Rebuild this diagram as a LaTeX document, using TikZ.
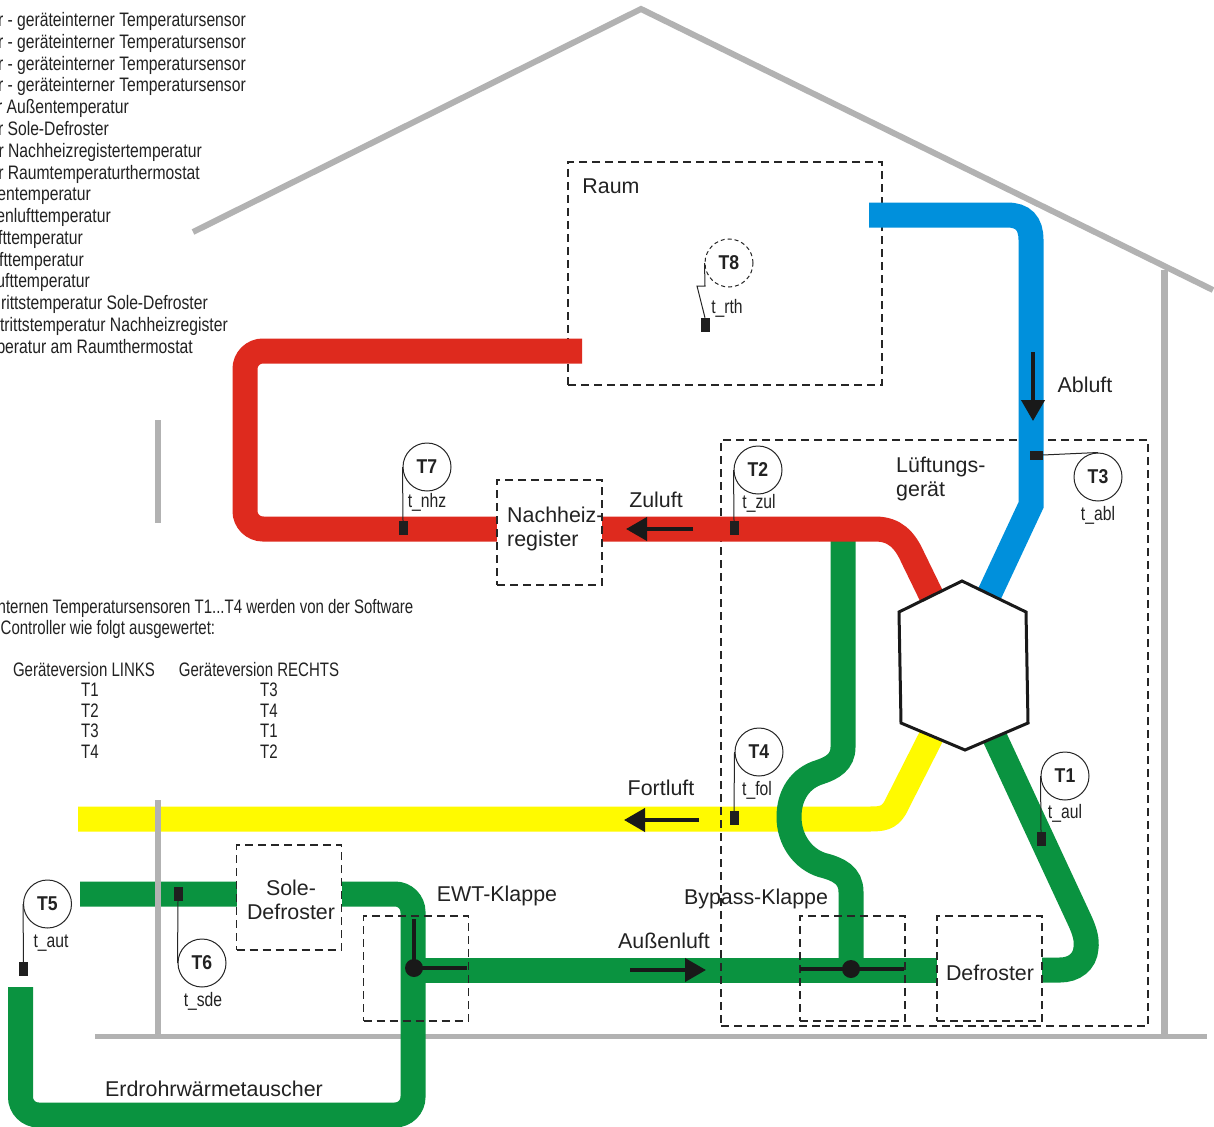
\documentclass[tikz,border=0pt]{standalone}
\usepackage{fontspec}
\setmainfont{Liberation Sans}
\newfontfamily\condf[FakeStretch=0.77]{Liberation Sans}
\newfontfamily\legf[FakeStretch=0.805]{Liberation Sans}
\newfontfamily\sensf[FakeStretch=0.88]{Liberation Sans}
\newcommand{\tlab}[1]{\raisebox{-1.5pt}{#1}}
\definecolor{pgreen}{HTML}{0A9340}
\definecolor{pred}{HTML}{DE2A1E}
\definecolor{pblue}{HTML}{0090DC}
\definecolor{pyellow}{HTML}{FFFA00}
\definecolor{wallgray}{HTML}{B2B2B2}
\definecolor{txt}{HTML}{222222}
\usetikzlibrary{arrows.meta}
\tikzset{
  x=1pt,y=-1pt,
  wall/.style={draw=wallgray,line width=6},
  pipe/.style={line width=25,rounded corners=18},
  plainpipe/.style={line width=25},
  dbox/.style={draw=black!85,line width=1.5,dash pattern=on 8 off 5},
  lbl/.style={font=\fontsize{21.4}{24}\selectfont,text=txt,inner sep=0,align=left},
  small/.style={font=\condf\fontsize{19.5}{21}\selectfont,text=txt,inner sep=0,anchor=base},
  legend/.style={font=\legf\fontsize{19.5}{21}\selectfont,text=txt,inner sep=0,anchor=base east},
  tag/.style={font=\legf\fontsize{19.5}{21}\selectfont,text=txt,inner sep=0,anchor=base},
  sens/.style={circle,draw=black!85,line width=1,fill=white,minimum size=48,inner sep=0,font=\sensf\bfseries\fontsize{20}{22}\selectfont,text=txt},
  probe/.style={fill=black!88,inner sep=0,minimum width=9,minimum height=14},
  lead/.style={draw=black!85,line width=1},
  flow/.style={line width=4,draw=black!90,-{Triangle[length=21,width=23]}},
  flap/.style={line width=4,draw=black!90},
  pivot/.style={circle,fill=black!90,inner sep=0,minimum size=18},
}
\begin{document}
\begin{tikzpicture}
\useasboundingbox (0,0) rectangle (1214,1126);
\clip (0,0) rectangle (1214,1126);
\fill[white] (0,0) rectangle (1214,1126);
% building
\draw[wall,line cap=butt] (193,232) -- (641,9) -- (1213,290);
\draw[wall,line width=7] (1164,270) -- (1164,1036);
\draw[wall] (158,420) -- (158,523);
\draw[wall,line width=5] (95,1036) -- (1207,1036);
% pipes below the dashed frames
\draw[plainpipe,pyellow] (78,819) -- (870,819) .. controls (882,819) and (889,818) .. (895,808) -- (932,735);
\draw[plainpipe,pgreen] (843,535) -- (843,747) .. controls (843,762) and (832,768) .. (820,772) .. controls (800,778) and (789,795) .. (789,817) .. controls (789,840) and (803,859) .. (822,865) .. controls (838,869) and (851,875) .. (851,892) -- (851,970);
\draw[pipe,pgreen] (80,894) -- (413,894) -- (413,1115) -- (20.5,1115) -- (20.5,987);
\draw[plainpipe,pgreen] (425,970) -- (945,970);
\draw[plainpipe,pgreen] (995,738) -- (1080,921) .. controls (1085,932) and (1087,940) .. (1086,948) .. controls (1085,962) and (1074,970) .. (1060,970) -- (1035,970);
\draw[wall] (158,800) -- (158,1036);
% frames
\node[dbox] (raum) at (725,273.5) [minimum width=314,minimum height=223] {};
\node[dbox] (geraet) at (934.5,733) [minimum width=427,minimum height=586] {};
% pipes above the dashed frames
\draw[plainpipe,pblue] (869,215) -- (1007,215) .. controls (1023,215) and (1031,223) .. (1031,240) -- (1031,505) -- (988,597);
\draw[pipe,pred] (582,351) -- (245,351) -- (245,529) -- (505,529);
\draw[plainpipe,pred] (595,529) -- (875,529) .. controls (895,529) and (905,540) .. (913,558) -- (932,597);
% heat exchanger
\draw[draw=black!90,fill=white,line width=3,line join=miter] (962,581) -- (1026,612) -- (1028,723) -- (965,750) -- (901,723) -- (899,612) -- cycle;
% boxes
\node[dbox,fill=white,minimum size=105,inner sep=0] (nhz) at (549.5,532.5) {};
\node[dbox,fill=white,minimum size=105,inner sep=0] (sole) at (289,897.5) {};
\node[dbox,minimum size=105,inner sep=0] (ewt) at (416,968.5) {};
\node[dbox,minimum size=105,inner sep=0] (byp) at (852.5,968.5) {};
\node[dbox,fill=white,minimum size=105,inner sep=0] (def) at (989.5,968.5) {};
% flaps
\node[pivot] (p1) at (414,968) {};
\coordinate (p1a) at (414,919);
\coordinate (p1b) at (467,968);
\draw[flap] (p1a) -- (p1.center) -- (p1b);
\node[pivot] (p2) at (851,969) {};
\coordinate (p2a) at (800,969);
\coordinate (p2b) at (904,969);
\draw[flap] (p2a) -- (p2b);
% flow arrows
\coordinate (a1s) at (1033,352); \coordinate (a1e) at (1033,421);
\draw[flow] (a1s) -- (a1e);
\coordinate (a2s) at (693,529); \coordinate (a2e) at (626,529);
\draw[flow] (a2s) -- (a2e);
\coordinate (a3s) at (699,820); \coordinate (a3e) at (624,820);
\draw[flow] (a3s) -- (a3e);
\coordinate (a4s) at (630,970); \coordinate (a4e) at (706,970);
\draw[flow] (a4s) -- (a4e);
% sensors
\node[sens] (T1) at (1065,776) {\tlab{T1}};
\node[sens] (T2) at (758,470) {\tlab{T2}};
\node[sens] (T3) at (1098,477) {\tlab{T3}};
\node[sens] (T4) at (759,752) {\tlab{T4}};
\node[sens] (T5) at (47.5,904) {\tlab{T5}};
\node[sens] (T6) at (202,963) {\tlab{T6}};
\node[sens] (T7) at (427,467) {\tlab{T7}};
\node[sens,dash pattern=on 4 off 3] (T8) at (729,263) {\tlab{T8}};
\node[probe] (s1) at (1041,839) {};
\node[probe] (s2) at (734,528) {};
\node[probe,minimum width=13,minimum height=9] (s3) at (1036,455) {};
\node[probe] (s4) at (734,818) {};
\node[probe] (s5) at (23.5,969) {};
\node[probe] (s6) at (178,894) {};
\node[probe] (s7) at (403,528) {};
\node[probe] (s8) at (705,325) {};
\draw[lead] (T1.west) -- (s1.north);
\draw[lead] (T2.west) -- (s2.north);
\draw[lead] (s3.east) -- (T3.north);
\draw[lead] (T4.west) -- (s4.north);
\draw[lead] (T5.west) -- (s5.north);
\draw[lead] (s6.south) -- (T6.west);
\draw[lead] (T7.west) -- (s7.north);
\draw[lead] (T8.west) -- (705,286) -- (697,286) -- (s8.north);
% sensor labels
\node[tag] at (1065,818) {t\_aul};
\node[tag] at (759,508) {t\_zul};
\node[tag] at (1098,520) {t\_abl};
\node[tag] at (757,795) {t\_fol};
\node[tag] at (51,947) {t\_aut};
\node[tag] at (203,1006) {t\_sde};
\node[tag] at (427,507) {t\_nhz};
\node[tag] at (727,313) {t\_rth};
% labels
\node[lbl] at (611,186) {Raum};
\node[lbl] at (1085,385) {Abluft};
\node[lbl,anchor=west] at (896,479) {Lüftungs-\\gerät};
\node[lbl] at (656,500) {Zuluft};
\node[lbl,anchor=west] at (507,529) {Nachheiz-\\register};
\node[lbl] at (661,788) {Fortluft};
\node[lbl,align=center] at (291,900) {Sole-\\Defroster};
\node[lbl] at (497,896) {EWT-Klappe};
\node[lbl] at (756,899) {Bypass-Klappe};
\node[lbl] at (664,941) {Außenluft};
\node[lbl] at (990,973) {Defroster};
\node[lbl] at (214,1089) {Erdrohrwärmetauscher};
% legend
\node[legend] at (246,26.7) {r - geräteinterner Temperatursensor};
\node[legend] at (246,48.5) {r - geräteinterner Temperatursensor};
\node[legend] at (246,70.2) {r - geräteinterner Temperatursensor};
\node[legend] at (246,92) {r - geräteinterner Temperatursensor};
\node[legend] at (129,113.7) {r Außentemperatur};
\node[legend] at (109,135.5) {r Sole-Defroster};
\node[legend] at (202,157.2) {r Nachheizregistertemperatur};
\node[legend] at (200,179) {r Raumtemperaturthermostat};
\node[legend] at (91,200.7) {entemperatur};
\node[legend] at (111,222.5) {enlufttemperatur};
\node[legend] at (83,244.2) {fttemperatur};
\node[legend] at (84,266) {fttemperatur};
\node[legend] at (90,287.7) {ufttemperatur};
\node[legend] at (208,309.5) {rittstemperatur Sole-Defroster};
\node[legend] at (228,331.2) {trittstemperatur Nachheizregister};
\node[legend] at (193,353) {peratur am Raumthermostat};
% note
\node[small,anchor=base east] at (413.5,613) {nternen Temperatursensoren T1...T4 werden von der Software};
\node[small,anchor=base west] at (0.5,634) {Controller wie folgt ausgewertet:};
\node[small] at (84,676) {Geräteversion LINKS};
\node[small] at (259,676) {Geräteversion RECHTS};
\node[small] at (90,696.7) {T1};\node[small] at (269,696.7) {T3};
\node[small] at (90,717.4) {T2};\node[small] at (269,717.4) {T4};
\node[small] at (90,737.7) {T3};\node[small] at (269,737.7) {T1};
\node[small] at (90,758.4) {T4};\node[small] at (269,758.4) {T2};
\end{tikzpicture}
\end{document}
